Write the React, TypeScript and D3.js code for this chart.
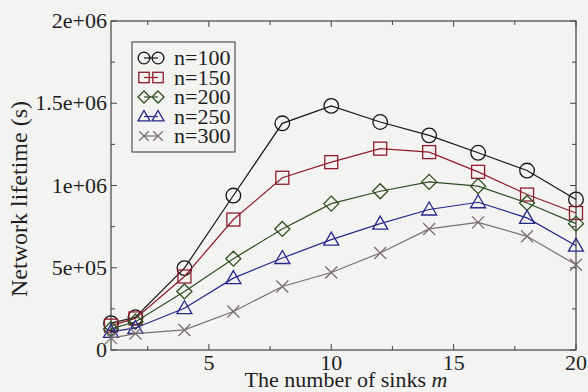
import React from "react";
import * as d3 from "d3";

const sinks = [1, 2, 4, 6, 8, 10, 12, 14, 16, 18, 20];
const n100 = [163000, 199000, 498000, 939000, 1378000, 1484000, 1386000, 1305000, 1199000, 1091000, 915000];
const n150 = [148000, 192000, 447000, 793000, 1047000, 1142000, 1224000, 1203000, 1083000, 945000, 833000];
const n200 = [128000, 172000, 356000, 555000, 736000, 890000, 965000, 1022000, 996000, 894000, 768000];
const n250 = [110000, 134000, 254000, 437000, 559000, 671000, 768000, 854000, 898000, 803000, 634000];
const n300 = [72000, 100000, 122000, 234000, 386000, 471000, 590000, 736000, 776000, 691000, 518000];

const seriesNames = ["n=100", "n=150", "n=200", "n=250", "n=300"];
const seriesValues = [n100, n150, n200, n250, n300];
const seriesColors = ["#151515", "#8e1c2c", "#2f4d22", "#26288a", "#7a6e72"];
const seriesShapes = ["circle", "square", "diamond", "triangle", "cross"];

const xMajor = [5, 10, 15, 20];
const xMinor = [2.5, 7.5, 12.5, 17.5];
const yMajor = [0, 500000, 1000000, 1500000, 2000000];
const yMajorLabels = ["0", "5e+05", "1e+06", "1.5e+06", "2e+06"];
const yMinor = [250000, 750000, 1250000, 1750000];

const W = 588;
const H = 392;
const M = { left: 111, right: 576, top: 21, bottom: 350 };
const FONT = "Liberation Serif, Times New Roman, Times, DejaVu Serif, serif";

function Marker({ shape, x, y, color, k = 1 }: { shape: string; x: number; y: number; color: string; k?: number }) {
  const sw = 1.3;
  const r = 7.3 * k, s = 6.5 * k, d = 7.5 * k, c = 6 * k;
  if (shape === "circle") return <circle cx={x} cy={y} r={r} fill="none" stroke={color} strokeWidth={sw} />;
  if (shape === "square") return <rect x={x - s} y={y - s} width={2 * s} height={2 * s} fill="none" stroke={color} strokeWidth={sw} />;
  if (shape === "diamond")
    return <path d={`M${x - d},${y}L${x},${y - d}L${x + d},${y}L${x},${y + d}Z`} fill="none" stroke={color} strokeWidth={sw} />;
  if (shape === "triangle")
    return <path d={`M${x - d},${y + 0.73 * d}L${x},${y - d}L${x + d},${y + 0.73 * d}Z`} fill="none" stroke={color} strokeWidth={sw} />;
  return <path d={`M${x - c},${y - c}L${x + c},${y + c}M${x - c},${y + c}L${x + c},${y - c}`} fill="none" stroke={color} strokeWidth={sw} />;
}

function T({ x, y, children, anchor = "middle", size = 22, rotate = 0 }: any) {
  return (
    <text
      transform={`translate(${x},${y}) rotate(${rotate})`}
      textAnchor={anchor}
      style={{ fontFamily: FONT, fontSize: size + "px" }}
      fill="#1e1e1e"
    >
      {children}
    </text>
  );
}

export default function App() {
  const x = d3.scaleLinear().domain([1, 20]).range([M.left, M.right]);
  const y = d3.scaleLinear().domain([0, 2000000]).range([M.bottom, M.top]);
  const line = d3
    .line<number>()
    .x((_, i) => x(sinks[i]))
    .y((d) => y(d));

  const axisColor = "#444";
  const legendRows = [58, 77.5, 97, 116.5, 136];

  return (
    <svg width={W} height={H} style={{ position: "absolute", left: 0, top: 0, background: "#f3f3f1" }}>
      <rect x={0} y={0} width={W} height={H} fill="#f3f3f1" />
      <rect x={M.left} y={M.top} width={M.right - M.left} height={M.bottom - M.top} fill="none" stroke={axisColor} strokeWidth={1.2} />
      {xMajor.map((v) => (
        <g key={"xm" + v}>
          <line x1={x(v)} x2={x(v)} y1={M.bottom} y2={M.bottom - 6} stroke={axisColor} />
          <line x1={x(v)} x2={x(v)} y1={M.top} y2={M.top + 6} stroke={axisColor} />
          <T x={x(v)} y={370}>{v}</T>
        </g>
      ))}
      {xMinor.map((v) => (
        <g key={"xn" + v}>
          <line x1={x(v)} x2={x(v)} y1={M.bottom} y2={M.bottom - 4} stroke={axisColor} />
          <line x1={x(v)} x2={x(v)} y1={M.top} y2={M.top + 4} stroke={axisColor} />
        </g>
      ))}
      {yMajor.map((v, i) => (
        <g key={"ym" + v}>
          <line x1={M.left} x2={M.left + 6} y1={y(v)} y2={y(v)} stroke={axisColor} />
          <line x1={M.right} x2={M.right - 6} y1={y(v)} y2={y(v)} stroke={axisColor} />
          <T x={107} y={y(v) + 7} anchor="end">{yMajorLabels[i]}</T>
        </g>
      ))}
      {yMinor.map((v) => (
        <g key={"yn" + v}>
          <line x1={M.left} x2={M.left + 4} y1={y(v)} y2={y(v)} stroke={axisColor} />
          <line x1={M.right} x2={M.right - 4} y1={y(v)} y2={y(v)} stroke={axisColor} />
        </g>
      ))}
      {seriesValues.map((vals, s) => (
        <g key={"s" + s}>
          <path d={line(vals) || ""} fill="none" stroke={seriesColors[s]} strokeWidth={1.2} />
          {vals.map((v, i) => (
            <Marker key={i} shape={seriesShapes[s]} x={x(sinks[i])} y={y(v)} color={seriesColors[s]} />
          ))}
        </g>
      ))}
      <rect x={132} y={42} width={103} height={110} fill="#f3f3f1" stroke={axisColor} strokeWidth={1.1} />
      {seriesNames.map((name, s) => (
        <g key={"l" + s}>
          <line x1={144} x2={158} y1={legendRows[s]} y2={legendRows[s]} stroke={seriesColors[s]} strokeWidth={1.2} />
          <Marker shape={seriesShapes[s]} x={144} y={legendRows[s]} color={seriesColors[s]} k={0.8} />
          <Marker shape={seriesShapes[s]} x={158} y={legendRows[s]} color={seriesColors[s]} k={0.8} />
          <T x={174} y={legendRows[s] + 7} anchor="start">{name}</T>
        </g>
      ))}
      <T x={346} y={387}>
        The number of sinks <tspan fontStyle="italic">m</tspan>
      </T>
      <T x={27} y={199} rotate={-90} size={24}>Network lifetime (s)</T>
    </svg>
  );
}
